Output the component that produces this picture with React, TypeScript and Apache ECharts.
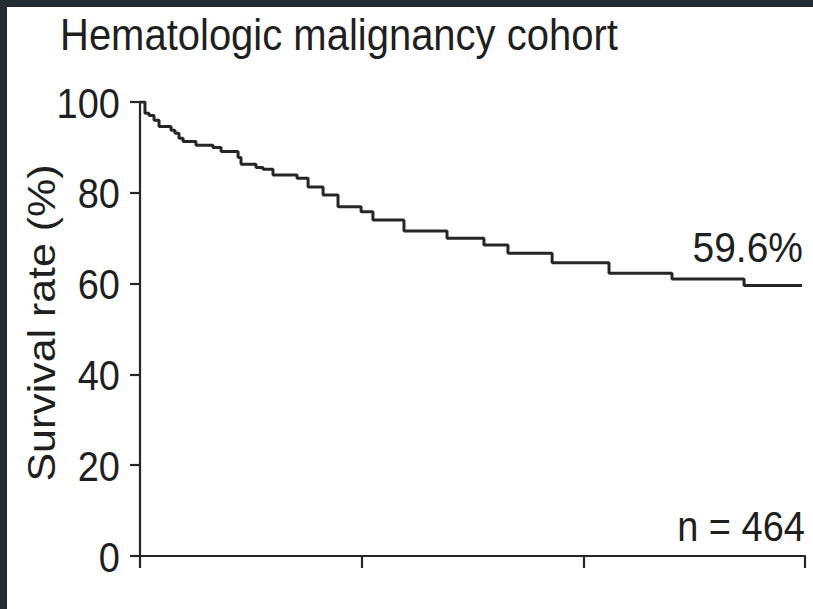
import React, { useEffect, useRef } from "react";
import * as echarts from "echarts";

// Kaplan–Meier estimate: time of each event (months) and survival after it (%)
const months = [
  0, 0.27, 0.49, 0.76, 1.03, 1.68, 1.89, 2.11, 2.33, 3.03, 3.95, 4.39, 5.31,
  5.47, 6.28, 6.66, 7.2, 8.5, 9.1, 9.91, 10.72, 11.97, 12.61, 14.29, 16.62,
  18.62, 19.92, 22.31, 25.39, 28.8, 32.7, 35.84,
];
const survival = [
  100, 97.5, 97.0, 96.0, 94.6, 93.8, 93.1, 92.0, 91.3, 90.5, 90.0, 89.1, 87.8,
  86.3, 85.6, 85.2, 83.9, 83.2, 81.3, 79.5, 76.9, 75.8, 74.0, 71.6, 70.0, 68.5,
  66.7, 64.6, 62.3, 61.0, 59.6, 59.6,
];
const yTicks = [0, 20, 40, 60, 80, 100];
const xTicks = [0, 12, 24, 36];

const titleText = "Hematologic malignancy cohort";
const yAxisTitle = "Survival rate (%)";
const cohortSize = 464;

const FONT = "'Liberation Sans', Arial, Helvetica, sans-serif";
const INK = "#262626";
const TEXT = "#1f1f1f";
// glyphs in this figure are drawn slightly tall
const STRETCH = 1.1;

export default function App() {
  const ref = useRef<HTMLDivElement>(null);

  useEffect(() => {
    if (!ref.current) return;
    const chart = echarts.init(ref.current, null, { renderer: "svg" });
    const points = months.map((m, i) => [m, survival[i]]);
    const last = survival[survival.length - 1];

    chart.setOption({
      animation: false,
      backgroundColor: "#ffffff",
      grid: { left: 140, right: 8, top: 102, bottom: 53, containLabel: false },
      xAxis: {
        type: "value",
        min: xTicks[0],
        max: xTicks[xTicks.length - 1],
        interval: xTicks[1] - xTicks[0],
        axisLine: { show: true, lineStyle: { color: INK, width: 2.2 } },
        axisTick: { show: true, length: 12, inside: false, lineStyle: { color: INK, width: 2.2 } },
        axisLabel: { show: false },
        splitLine: { show: false },
      },
      yAxis: {
        type: "value",
        min: yTicks[0],
        max: yTicks[yTicks.length - 1],
        interval: yTicks[1] - yTicks[0],
        axisLine: { show: true, lineStyle: { color: INK, width: 2.2 } },
        axisTick: { show: true, length: 10, inside: false, lineStyle: { color: INK, width: 2.2 } },
        axisLabel: { show: false },
        splitLine: { show: false },
      },
      series: [
        {
          type: "line",
          step: "end",
          data: points,
          symbol: "none",
          lineStyle: { color: INK, width: 3 },
          silent: true,
        },
      ],
    });

    const px = (x: number, y: number) =>
      chart.convertToPixel({ gridIndex: 0 }, [x, y]) as number[];

    const textEl = (
      id: string,
      text: string,
      x: number,
      y: number,
      fontSize: number,
      align: string
    ) => ({
      id,
      type: "text",
      x,
      y,
      scaleY: STRETCH,
      style: {
        text,
        fontFamily: FONT,
        fontSize,
        fill: TEXT,
        align,
        verticalAlign: "middle",
      },
    });

    // Tick labels placed on the y scale
    const yLabels = yTicks.map((v) => {
      const p = px(xTicks[0], v);
      return textEl(`ytick${v}`, String(v), p[0] - 20, p[1] + 1, 38, "right");
    });

    const endPt = px(months[months.length - 1], last);
    const basePt = px(xTicks[xTicks.length - 1], 0);

    chart.setOption({
      graphic: [
        { id: "frameTop", type: "rect", shape: { x: 0, y: 0, width: 813, height: 7 }, style: { fill: "#252b33" } },
        { id: "frameLeft", type: "rect", shape: { x: 0, y: 0, width: 7, height: 609 }, style: { fill: "#252b33" } },
        textEl("title", titleText, 60, 35, 40, "left"),
        {
          id: "yName",
          type: "text",
          x: 42,
          y: 323,
          rotation: Math.PI / 2,
          scaleX: STRETCH,
          style: {
            text: yAxisTitle,
            fontFamily: FONT,
            fontSize: 39,
            fill: TEXT,
            align: "center",
            verticalAlign: "middle",
          },
        },
        ...yLabels,
        textEl("endValue", `${last.toFixed(1)}%`, endPt[0] + 1, endPt[1] - 38, 39, "right"),
        textEl("cohort", `n = ${cohortSize}`, basePt[0], basePt[1] - 30, 38, "right"),
      ],
    });

    return () => chart.dispose();
  }, []);

  return (
    <div
      ref={ref}
      style={{ position: "fixed", left: 0, top: 0, width: 813, height: 609 }}
    />
  );
}
